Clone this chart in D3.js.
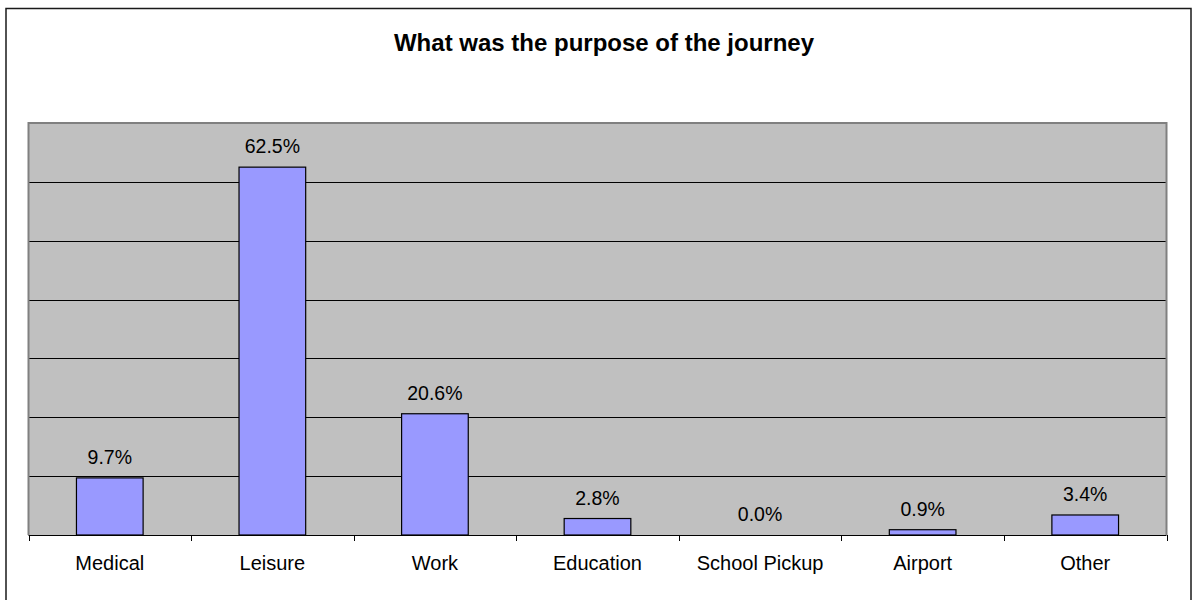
<!DOCTYPE html>
<html>
<head>
<meta charset="utf-8">
<script src="https://cdn.jsdelivr.net/npm/d3@7"></script>
<style>
  html, body { margin: 0; padding: 0; background: #fff; }
  svg { display: block; font-family: "Liberation Sans", Arial, sans-serif; }
</style>
</head>
<body>
<svg id="chart" width="1197" height="600"></svg>
<script>
// Journey purpose survey results (percent of responses)
const categories = ["Medical", "Leisure", "Work", "Education", "School Pickup", "Airport", "Other"];
const values = [9.7, 62.5, 20.6, 2.8, 0.0, 0.9, 3.4];
const gridTicks = [10, 20, 30, 40, 50, 60];
const chartTitle = "What was the purpose of the journey";

const svg = d3.select("#chart");
const plot = { left: 28.5, right: 1166.5, top: 123, bottom: 535 };

// Outer frame
svg.append("rect")
  .attr("x", 6).attr("y", 8.5)
  .attr("width", 1185).attr("height", 600)
  .attr("fill", "#fff").attr("stroke", "#1a1a1a").attr("stroke-width", 1.5);

// Title
svg.append("text")
  .attr("x", 604).attr("y", 51)
  .attr("text-anchor", "middle")
  .attr("font-size", 24).attr("font-weight", "bold")
  .attr("fill", "#000")
  .text(chartTitle);

const x = d3.scaleBand()
  .domain(categories)
  .range([plot.left, plot.right])
  .paddingInner(0.59).paddingOuter(0.295);

const y = d3.scaleLinear().domain([0, 70]).range([plot.bottom, plot.top]);

// Plot background
svg.append("rect")
  .attr("x", plot.left).attr("y", plot.top)
  .attr("width", plot.right - plot.left).attr("height", plot.bottom - plot.top)
  .attr("fill", "#c0c0c0");

// Horizontal gridlines
svg.append("g").selectAll("line")
  .data(gridTicks).join("line")
  .attr("x1", plot.left).attr("x2", plot.right)
  .attr("y1", d => Math.round(y(d)) + 0.5).attr("y2", d => Math.round(y(d)) + 0.5)
  .attr("stroke", "#000").attr("stroke-width", 1);

// Plot border (top, left, right)
svg.append("path")
  .attr("d", `M${plot.left},${plot.bottom}V${plot.top}H${plot.right}V${plot.bottom}`)
  .attr("fill", "none").attr("stroke", "#808080").attr("stroke-width", 2);

// Bars
svg.append("g").selectAll("rect")
  .data(values).join("rect")
  .attr("x", (d, i) => x(categories[i]))
  .attr("y", d => y(d))
  .attr("width", x.bandwidth())
  .attr("height", d => y(0) - y(d))
  .attr("fill", "#9999ff")
  .attr("stroke", "#000").attr("stroke-width", 1.2);

// Value labels
svg.append("g").selectAll("text")
  .data(values).join("text")
  .attr("x", (d, i) => x(categories[i]) + x.bandwidth() / 2)
  .attr("y", d => y(d) - 14)
  .attr("text-anchor", "middle")
  .attr("font-size", 19.5)
  .attr("fill", "#000")
  .text(d => d.toFixed(1) + "%");

// Category axis with ticks at band boundaries
const boundaries = d3.range(categories.length + 1).map(i => plot.left + i * (plot.right - plot.left) / categories.length);
const axisG = svg.append("g");
axisG.append("line")
  .attr("x1", plot.left).attr("x2", plot.right)
  .attr("y1", plot.bottom + 0.5).attr("y2", plot.bottom + 0.5)
  .attr("stroke", "#000").attr("stroke-width", 1.2);
axisG.selectAll("line.tick")
  .data(boundaries).join("line")
  .attr("class", "tick")
  .attr("x1", d => Math.round(d) + 0.5).attr("x2", d => Math.round(d) + 0.5)
  .attr("y1", plot.bottom).attr("y2", plot.bottom + 6)
  .attr("stroke", "#000").attr("stroke-width", 1);
axisG.selectAll("text")
  .data(categories).join("text")
  .attr("x", d => x(d) + x.bandwidth() / 2)
  .attr("y", 570)
  .attr("text-anchor", "middle")
  .attr("font-size", 20)
  .attr("fill", "#000")
  .text(d => d);
</script>
</body>
</html>
